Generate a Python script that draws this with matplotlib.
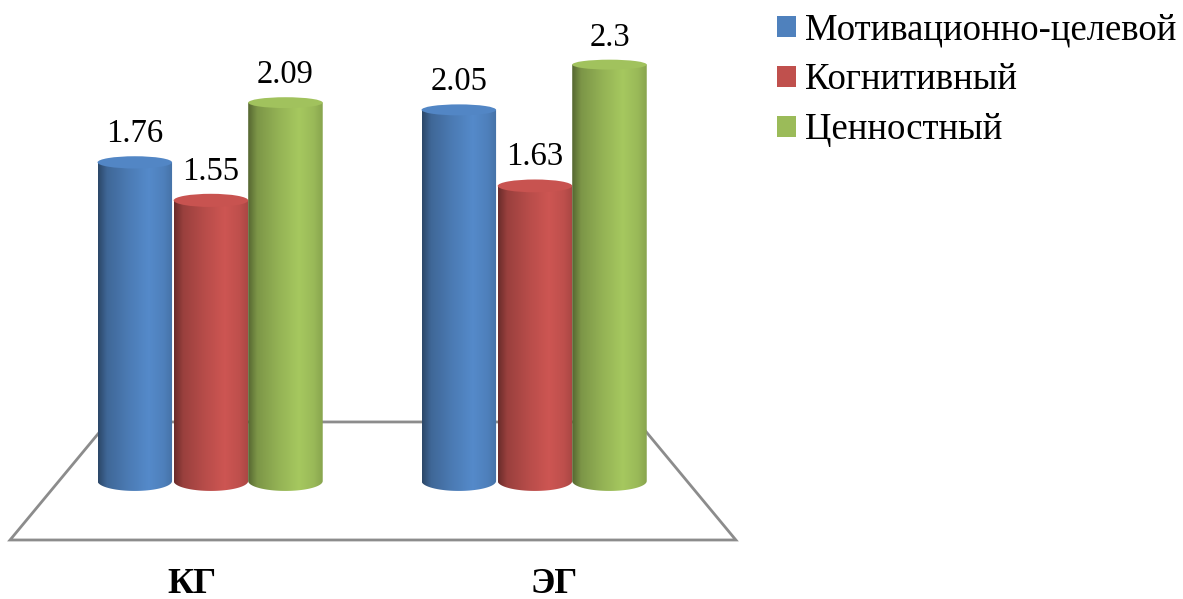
import numpy as np
import matplotlib
matplotlib.use("Agg")
import matplotlib.pyplot as plt
from matplotlib.patches import Ellipse, PathPatch, Patch, Polygon
from matplotlib.path import Path
from matplotlib.colors import to_rgb

# mean scores per group
groups = ["КГ", "ЭГ"]
series = ["Мотивационно-целевой", "Когнитивный", "Ценностный"]
kg_values = [1.76, 1.55, 2.09]
eg_values = [2.05, 1.63, 2.3]
colors = ["#4F81BD", "#C0504D", "#9BBB59"]

plt.rcParams["font.family"] = ["Liberation Serif", "DejaVu Serif"]

fig = plt.figure(figsize=(11.83, 5.99), dpi=100)
ax = fig.add_axes([0, 0, 1, 1])
ax.axis("off")

bar_w = 0.23
offsets = [-0.235, 0.0, 0.23]
px = 1 / 181  # one pixel in value units


def shade(color, n=150):
    # dark left edge, highlight a bit right of centre
    t = np.linspace(0, 1, n)
    f = np.interp(t, [0, 0.12, 0.4, 0.68, 0.88, 1],
                  [0.55, 0.8, 0.95, 1.07, 0.99, 0.88])
    rgb = np.clip(np.outer(f, to_rgb(color)), 0, 1)
    return rgb[np.newaxis, :, :]


def cylinder(xc, h, color, z):
    x0, x1 = xc - bar_w / 2, xc + bar_w / 2
    eb = 0.055
    et = 0.055 - 0.012 * h
    theta = np.linspace(np.pi, 2 * np.pi, 60)
    bottom = np.column_stack([xc + bar_w / 2 * np.cos(theta), eb * np.sin(theta)])
    verts = np.vstack([[x0, h], bottom, [x1, h], [x0, h]])
    body = PathPatch(Path(verts), facecolor="none", edgecolor="none")
    ax.add_patch(body)
    img = ax.imshow(shade(color), extent=(x0, x1, -eb, h), aspect="auto",
                    interpolation="bilinear", zorder=z)
    img.set_clip_path(body)
    top_c = np.clip(np.array(to_rgb(color)) * 1.04, 0, 1)
    ax.add_patch(Ellipse((xc, h), bar_w, 2 * et, facecolor=top_c,
                         edgecolor="none", zorder=z + 0.05))
    return et


# floor of the 3d plot
floor = Polygon([[-0.62, -0.326], [-0.318, 0.326], [1.318, 0.326], [1.62, -0.326]],
                closed=True, fill=False, edgecolor="#8c8c8c", linewidth=2, zorder=1)
ax.add_patch(floor)

for i, vals in enumerate([kg_values, eg_values]):
    for k, v in enumerate(vals):
        xc = i + offsets[k]
        et = cylinder(xc, v, colors[k], 2 + k * 0.1 + i)
        ax.text(xc, v + et + 14 * px, f"{v:g}", ha="center", va="baseline",
                fontsize=23.5, zorder=10)
    ax.text(i + (i - 0.5) * 0.12, -0.62, groups[i], ha="center", va="baseline",
            fontsize=26, fontweight="bold")

handles = [Patch(facecolor=c, edgecolor="none") for c in colors]
ax.legend(handles, series, loc="upper left",
          bbox_to_anchor=(777 / 1183, 1 - 13 / 599), bbox_transform=fig.transFigure,
          frameon=False, fontsize=26.5, handlelength=0.51, handleheight=0.51,
          handletextpad=0.25, labelspacing=0.42, borderpad=0, borderaxespad=0)

ax.set_xlim(-0.651, 3.0)
ax.set_ylim(-0.652, 2.657)

fig.savefig("out.png", dpi=100)
